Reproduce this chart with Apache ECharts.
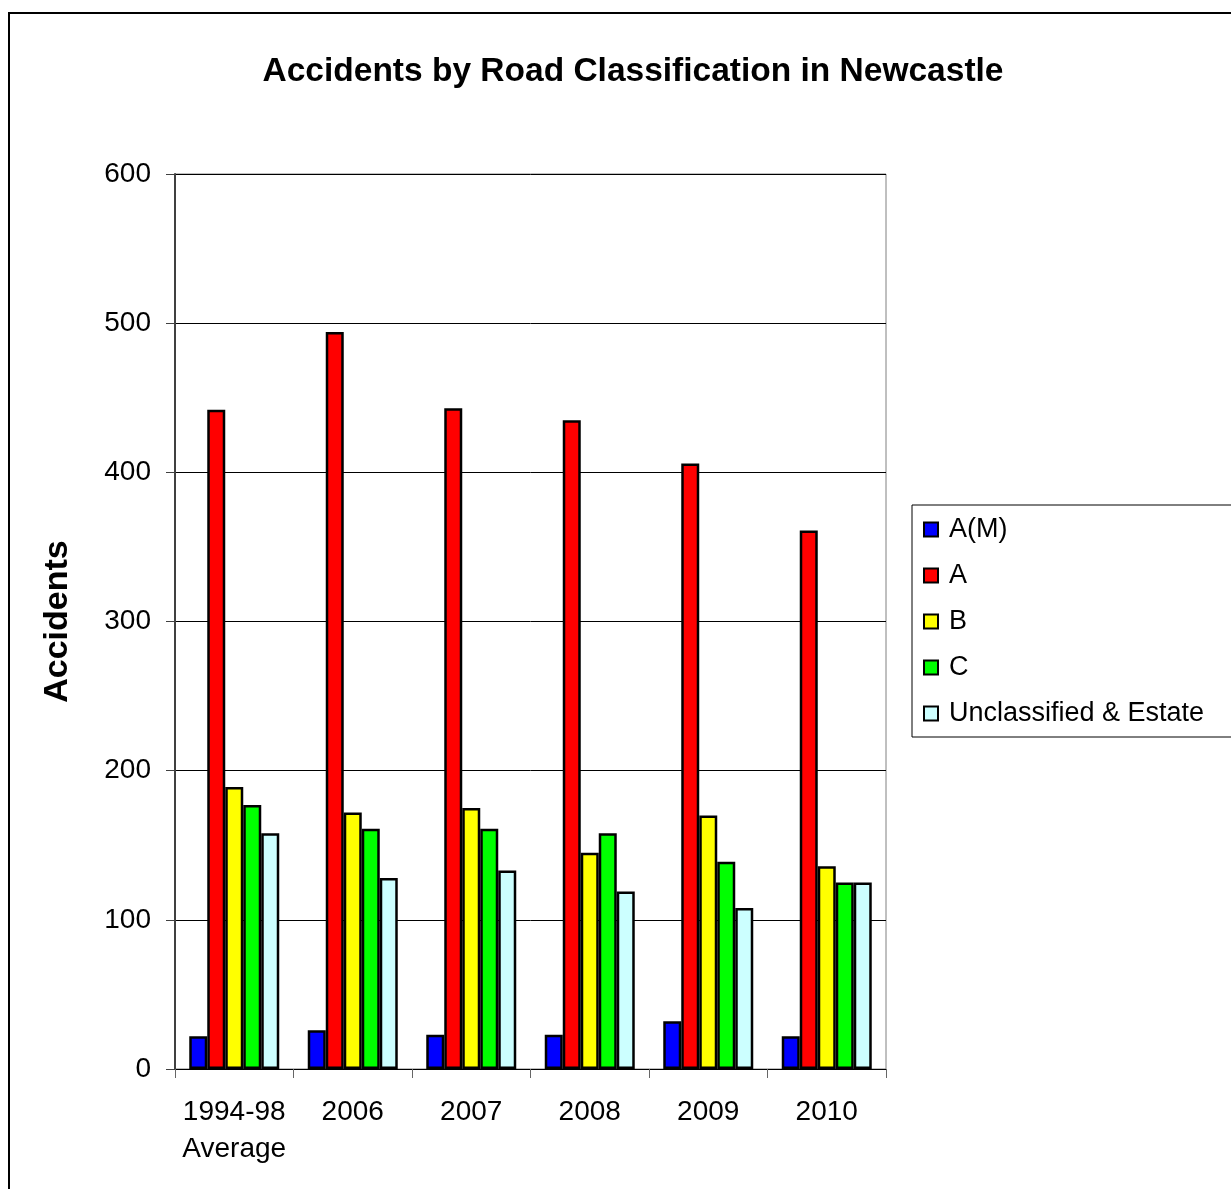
<!DOCTYPE html>
<html>
<head>
<meta charset="utf-8">
<script src="https://cdn.jsdelivr.net/npm/echarts@6/dist/echarts.min.js"></script>
<style>
  html, body { margin: 0; padding: 0; background: #fff; }
  #chart { width: 1231px; height: 1189px; }
</style>
</head>
<body>
<div id="chart"></div>
<script>
var dom = document.getElementById("chart");
var myChart = echarts.init(dom);

// data
var years = ['1994-98\nAverage', '2006', '2007', '2008', '2009', '2010'];
var seriesNames = ['A(M)', 'A', 'B', 'C', 'Unclassified & Estate'];
var colours = ['#0000FF', '#FF0000', '#FFFF00', '#00FF00', '#CCFFFF'];
var AM_values = [22, 26, 23, 23, 32, 22];
var A_values = [442, 494, 443, 435, 406, 361];
var B_values = [189, 172, 175, 145, 170, 136];
var C_values = [177, 161, 161, 158, 139, 125];
var U_values = [158, 128, 133, 119, 108, 125];
var yTicks = [0, 100, 200, 300, 400, 500, 600];

var allValues = [AM_values, A_values, B_values, C_values, U_values];
var font = 'Liberation Sans, Arial, sans-serif';

var series = [];
for (var i = 0; i < seriesNames.length; i++) {
    series.push({
        name: seriesNames[i],
        type: 'bar',
        barWidth: 18,
        barGap: '0%',
        itemStyle: {
            color: colours[i],
            borderColor: '#000',
            borderWidth: 2.5
        },
        data: allValues[i]
    });
}

option = {
    animation: false,
    backgroundColor: '#fff',
    textStyle: { fontFamily: font },
    title: {
        text: 'Accidents by Road Classification in Newcastle',
        left: 628,
        textAlign: 'center',
        top: 50,
        textStyle: { fontSize: 33.5, fontWeight: 'bold', color: '#000', fontFamily: font }
    },
    graphic: [{
        type: 'rect',
        shape: { x: 9, y: 13, width: 1240, height: 1200 },
        style: { fill: null, stroke: '#000', lineWidth: 2 },
        silent: true
    }],
    legend: {
        orient: 'vertical',
        left: 912,
        top: 505,
        padding: [11, 40, 10, 11],
        itemWidth: 14,
        itemHeight: 14,
        itemGap: 19,
        borderColor: '#000',
        borderWidth: 1,
        icon: 'rect',
        textStyle: { fontSize: 27, lineHeight: 27, color: '#000', fontFamily: font, padding: [0, 0, 0, 6] },
        data: seriesNames
    },
    grid: {
        left: 175,
        top: 174,
        right: 345,
        bottom: 120,
        show: true,
        borderColor: '#808080',
        borderWidth: 1
    },
    xAxis: {
        type: 'category',
        data: years,
        axisLine: { lineStyle: { color: '#000', width: 1 } },
        axisTick: { show: true, length: 9, lineStyle: { color: '#666' } },
        axisLabel: { interval: 0, fontSize: 28, lineHeight: 37, color: '#000', margin: 25, fontFamily: font }
    },
    yAxis: {
        type: 'value',
        min: yTicks[0],
        max: yTicks[yTicks.length - 1],
        interval: 100,
        name: 'Accidents',
        nameLocation: 'middle',
        nameGap: 100,
        nameTextStyle: { fontSize: 34, fontWeight: 'bold', color: '#000', fontFamily: font },
        axisLine: { show: true, lineStyle: { color: '#404040', width: 2 } },
        axisTick: { show: true, length: 9, lineStyle: { color: '#404040' } },
        axisLabel: { fontSize: 28, color: '#000', margin: 24, fontFamily: font },
        splitLine: { lineStyle: { color: '#000', width: 1 } }
    },
    series: series
};
if (option && typeof option === "object") {
    myChart.setOption(option, true);
}
</script>
</body>
</html>
